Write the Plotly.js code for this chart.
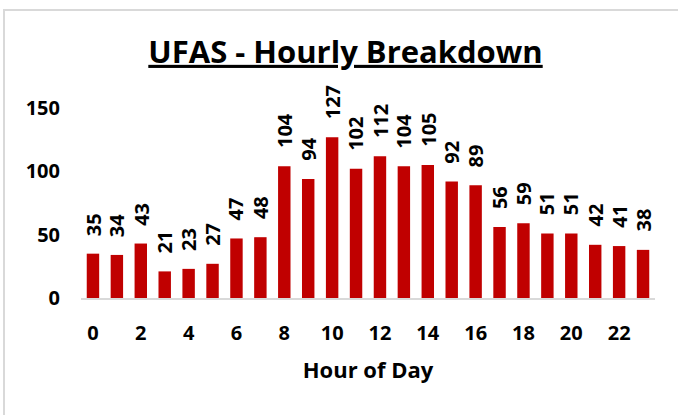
<!DOCTYPE html>
<html>
<head>
<meta charset="utf-8">
<script src="https://cdn.plot.ly/plotly-3.0.1.min.js"></script>
<style>
  html, body { margin: 0; padding: 0; background: #ffffff; }
  #chart { width: 678px; height: 415px; position: absolute; left: 0; top: 0; }
  #frame { position: absolute; left: 3px; top: 9px; width: 700px; height: 420px;
           border-left: 2px solid #d9d9d9; border-top: 2px solid #d9d9d9; pointer-events: none; }
</style>
</head>
<body>
<div id="chart"></div>
<div id="frame"></div>
<script>
const hours = [0,1,2,3,4,5,6,7,8,9,10,11,12,13,14,15,16,17,18,19,20,21,22,23];
const counts = [35,34,43,21,23,27,47,48,104,94,127,102,112,104,105,92,89,56,59,51,51,42,41,38];
const yTicks = [0,50,100,150];
const xTicks = [0,2,4,6,8,10,12,14,16,18,20,22];
const chartTitle = 'UFAS - Hourly Breakdown';
const xTitle = 'Hour of Day';

const FONT = '"Open Sans", Lato, sans-serif';

const trace = {
  type: 'bar',
  x: hours,
  y: counts,
  marker: { color: '#C00000' },
  hoverinfo: 'x+y'
};

const annotations = hours.map((h, i) => ({
  x: h, y: counts[i], xref: 'x', yref: 'y',
  text: '<b>' + counts[i] + '</b>',
  showarrow: false, textangle: -90,
  xanchor: 'center', yanchor: 'bottom', yshift: 16,
  font: { family: FONT, size: 20, color: '#000000' }
}));

const layout = {
  width: 678, height: 415,
  margin: { l: 81, r: 23, t: 108, b: 117 },
  paper_bgcolor: 'rgba(0,0,0,0)',
  plot_bgcolor: 'rgba(0,0,0,0)',
  bargap: 0.48,
  showlegend: false,
  title: {
    text: '<b><u>' + chartTitle + '</u></b>',
    font: { family: FONT, size: 31, color: '#000000' },
    xref: 'container', yref: 'container',
    x: 0.5096, xanchor: 'center',
    y: 1 - 52/415, yanchor: 'middle'
  },
  xaxis: {
    range: [-0.5, 23.5],
    tickmode: 'array', tickvals: xTicks, ticktext: xTicks.map(String),
    showgrid: false, zeroline: false,
    showline: true, linecolor: '#d9d9d9', linewidth: 2,
    ticks: '', ticklabelstandoff: 16,
    tickfont: { family: FONT, size: 20, color: '#000000', weight: 'bold' },
    title: { text: '<b>' + xTitle + '</b>', standoff: 18,
             font: { family: FONT, size: 22, color: '#000000' } }
  },
  yaxis: {
    range: [0, 150],
    tickmode: 'array', tickvals: yTicks, ticktext: yTicks.map(String),
    showgrid: false, zeroline: false, showline: false,
    ticks: '', ticklabelstandoff: 20,
    tickfont: { family: FONT, size: 20, color: '#000000', weight: 'bold' }
  },
  annotations: annotations
};

Plotly.newPlot('chart', [trace], layout, { displayModeBar: false, staticPlot: true });
</script>
</body>
</html>
